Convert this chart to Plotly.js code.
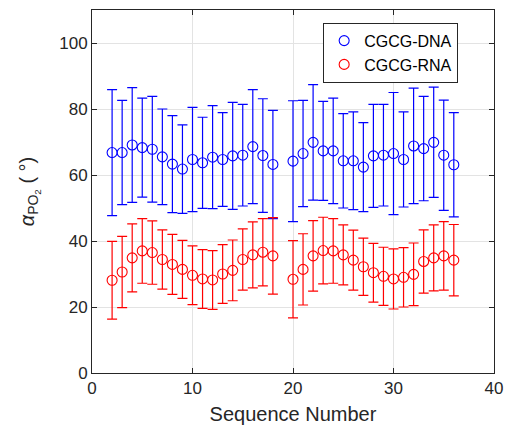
<!DOCTYPE html>
<html>
<head>
<meta charset="utf-8">
<script src="https://cdn.plot.ly/plotly-3.0.1.min.js"></script>
<style>html,body{margin:0;padding:0;background:#fff;}#chart{width:507px;height:430px;}</style>
</head>
<body>
<div id="chart"></div>
<script>
const seqNumbers = [2,3,4,5,6,7,8,9,10,11,12,13,14,15,16,17,18,20,21,22,23,24,25,26,27,28,29,30,31,32,33,34,35,36];
const dnaMean = [66.8,66.8,69.1,68.3,67.8,65.5,63.3,61.8,64.7,63.7,65.4,64.7,65.8,66.0,68.6,65.9,63.2,64.2,66.5,69.9,67.3,67.3,64.3,64.3,62.4,65.8,66.0,66.5,64.7,68.8,68.0,69.9,66.0,63.1];
const dnaErr = [19.1,15.8,17.4,15.0,16.0,14.5,14.7,13.4,15.8,13.8,15.6,14.2,16.2,15.4,17.3,17.2,16.4,18.3,16.1,17.5,15.0,16.0,14.3,14.8,13.5,15.6,15.4,18.5,14.4,17.5,15.8,16.7,16.7,15.8];
const rnaMean = [28.1,30.6,34.9,37.0,36.5,34.4,32.9,31.4,29.6,28.5,28.2,30.0,31.1,34.4,35.8,36.6,35.5,28.4,31.4,35.5,37.1,37.0,35.8,34.2,32.2,30.4,29.3,28.5,29.0,29.9,33.8,34.9,35.5,34.2];
const rnaErr = [11.8,10.8,10.3,9.8,9.6,9.0,9.1,8.8,8.9,8.9,8.9,8.9,9.2,9.3,10.0,10.2,11.6,11.7,10.8,10.7,10.1,9.8,9.1,9.1,8.7,8.9,8.8,9.1,9.0,9.5,9.6,10.0,10.4,10.8];
const seriesNames = ['CGCG-DNA','CGCG-RNA'];
const xTicks = [0,10,20,30,40];
const yTicks = [0,20,40,60,80,100];

const FONT = 'Liberation Sans, Arial, Helvetica, sans-serif';
function trace(name, y, err, color){
  return {
    x: seqNumbers, y: y, name: name, type: 'scatter', mode: 'markers',
    marker: {symbol: 'circle-open', size: 10, color: color, line: {width: 1.1, color: color}},
    error_y: {type: 'data', array: err, visible: true, color: color, thickness: 1.2, width: 5}
  };
}
const data = [trace(seriesNames[0], dnaMean, dnaErr, '#0000ff'), trace(seriesNames[1], rnaMean, rnaErr, '#ff0000')];
const axisCommon = {
  showline: true, mirror: 'ticks', linecolor: '#262626', linewidth: 1,
  ticks: 'inside', ticklen: 5, tickcolor: '#262626', tickwidth: 1,
  showgrid: true, gridcolor: '#e3e3e3', gridwidth: 1, zeroline: false,
  tickfont: {family: FONT, size: 17, color: '#262626'}
};
const layout = {
  width: 507, height: 430,
  margin: {l: 92, r: 13, t: 10, b: 57},
  paper_bgcolor: '#fff', plot_bgcolor: '#fff',
  showlegend: true,
  legend: {x: 0.575, y: 0.965, xanchor: 'left', yanchor: 'top', bgcolor: '#fff', bordercolor: '#262626', borderwidth: 1,
           font: {family: FONT, size: 16, color: '#000'}, tracegroupgap: 0},
  xaxis: Object.assign({}, axisCommon, {range: [0, 40], tickvals: xTicks, ticktext: xTicks.map(String),
          title: {text: 'Sequence Number', font: {family: FONT, size: 20, color: '#262626'}, standoff: 9}}),
  yaxis: Object.assign({}, axisCommon, {range: [0, 110], tickvals: yTicks, ticktext: yTicks.map(String),
          title: {text: '<i>α</i><sub>PO<sub>2</sub></sub> ( °)', font: {family: FONT, size: 20, color: '#262626'}, standoff: 19}})
};
Plotly.newPlot('chart', data, layout, {displayModeBar: false, staticPlot: true});
</script>
</body>
</html>
